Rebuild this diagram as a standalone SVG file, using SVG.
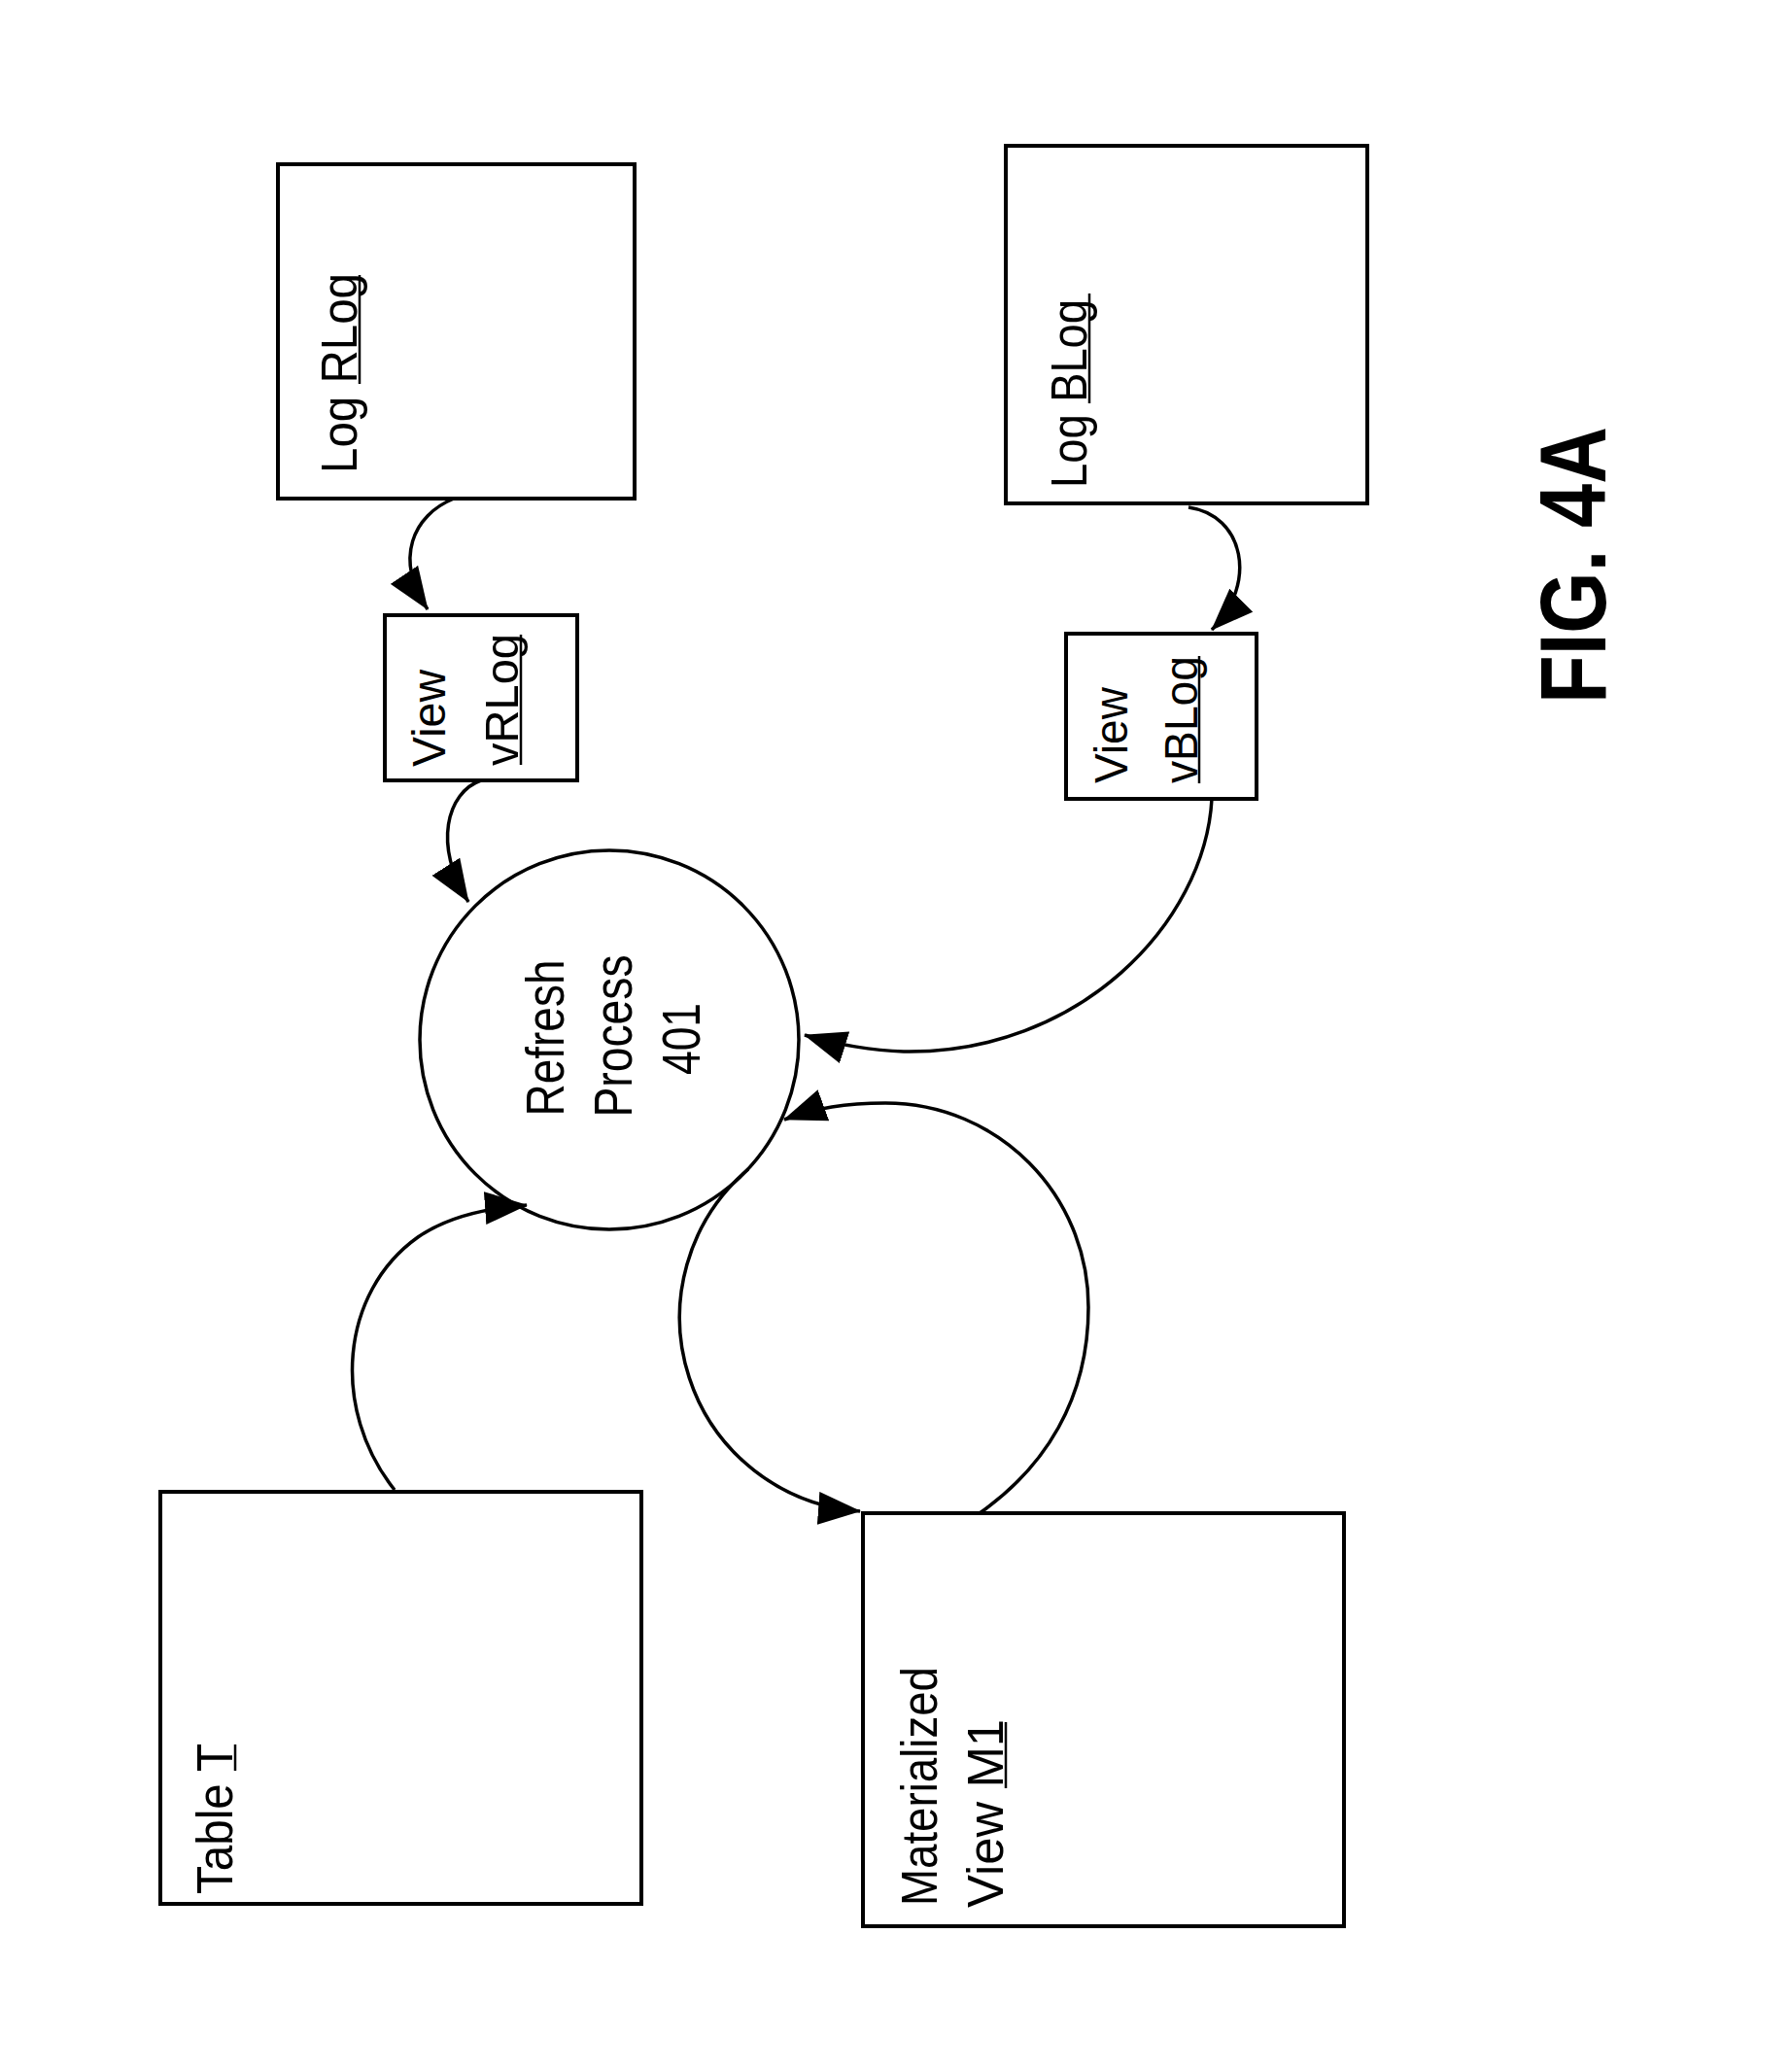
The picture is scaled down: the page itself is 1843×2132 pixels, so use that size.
<svg xmlns="http://www.w3.org/2000/svg" width="1843" height="2132" viewBox="0 0 1843 2132">
<style>
.box{fill:#fff;stroke:#000;stroke-width:4}
.circ{fill:none;stroke:#000;stroke-width:3.5}
.con{fill:none;stroke:#000;stroke-width:3.5;marker-end:url(#ah)}
.t{font-family:"Liberation Sans",Arial,sans-serif;font-size:52px;fill:#000}
.tc{font-family:"Liberation Sans",Arial,sans-serif;font-size:55px;fill:#000;text-anchor:middle}
.fig{font-family:"Liberation Sans",Arial,sans-serif;font-size:97px;font-weight:bold;fill:#000}
.ul{stroke:#000;stroke-width:2.5}
</style>
<defs>
<marker id="ah" markerUnits="userSpaceOnUse" markerWidth="44" markerHeight="34" viewBox="0 0 44 34" refX="43" refY="17" orient="auto">
<path d="M0,0 L44,17 L0,34 Z" fill="#000"/>
</marker>
</defs>
<rect width="1843" height="2132" fill="#fff"/>

<g id="connectors">
<path class="con" d="M467,513 C425,530 405,575 440,627"/>
<path class="con" d="M495,803 C460,815 445,870 482,928"/>
<path class="con" d="M406,1533 C340,1450 350,1330 430,1273 C460,1252 500,1243 542,1240"/>
<path class="con" d="M1223,522 C1280,530 1295,600 1247,648"/>
<path class="con" d="M1247,822 C1240,950 1110,1085 930,1082 C900,1081 860,1075 828,1065"/>
<path class="con" d="M1008,1557 C1075,1510 1120,1440 1120,1345 C1120,1229 1027,1135 911,1135 C870,1135 840,1140 807,1152"/>
<path class="con" d="M770,1203 A200,200 0 0 0 885,1555"/>
</g>

<g id="log-rlog">
<rect class="box" x="286" y="169" width="367" height="344"/>
<text class="t" transform="translate(367,487) rotate(-90)" textLength="206" lengthAdjust="spacingAndGlyphs">Log RLog</text>
<line class="ul" x1="370" y1="395" x2="370" y2="283"/>
</g>

<g id="log-blog">
<rect class="box" x="1035" y="150" width="372" height="368"/>
<text class="t" transform="translate(1118,502) rotate(-90)" textLength="194" lengthAdjust="spacingAndGlyphs">Log BLog</text>
<line class="ul" x1="1121" y1="415" x2="1121" y2="302"/>
</g>

<g id="view-vrlog">
<rect class="box" x="396" y="633" width="198" height="170"/>
<text class="t" style="font-size:49px" transform="translate(458,789) rotate(-90)" textLength="100" lengthAdjust="spacingAndGlyphs">View</text>
<text class="t" style="font-size:49px" transform="translate(533,788) rotate(-90)" textLength="136" lengthAdjust="spacingAndGlyphs">vRLog</text>
<line class="ul" x1="536" y1="787" x2="536" y2="653"/>
</g>

<g id="view-vblog">
<rect class="box" x="1097" y="652" width="196" height="170"/>
<text class="t" style="font-size:49px" transform="translate(1160,806) rotate(-90)" textLength="99" lengthAdjust="spacingAndGlyphs">View</text>
<text class="t" style="font-size:49px" transform="translate(1232,806) rotate(-90)" textLength="131" lengthAdjust="spacingAndGlyphs">vBLog</text>
<line class="ul" x1="1234" y1="806" x2="1234" y2="675"/>
</g>

<g id="refresh-process">
<circle class="circ" cx="627" cy="1070" r="195"/>
<text class="tc" transform="translate(580,1068) rotate(-90)" textLength="161" lengthAdjust="spacingAndGlyphs">Refresh</text>
<text class="tc" transform="translate(650,1066) rotate(-90)" textLength="167" lengthAdjust="spacingAndGlyphs">Process</text>
<text class="tc" transform="translate(720,1069) rotate(-90)" textLength="74" lengthAdjust="spacingAndGlyphs">401</text>
</g>

<g id="table-t">
<rect class="box" x="165" y="1535" width="495" height="424"/>
<text class="t" transform="translate(239,1949) rotate(-90)" textLength="155" lengthAdjust="spacingAndGlyphs">Table T</text>
<line class="ul" x1="242" y1="1822" x2="242" y2="1795"/>
</g>

<g id="materialized-view-m1">
<rect class="box" x="888" y="1557" width="495" height="425"/>
<text class="t" transform="translate(964,1961) rotate(-90)" textLength="246" lengthAdjust="spacingAndGlyphs">Materialized</text>
<text class="t" transform="translate(1032,1963) rotate(-90)" textLength="194" lengthAdjust="spacingAndGlyphs">View M1</text>
<line class="ul" x1="1035" y1="1840" x2="1035" y2="1772"/>
</g>

<g id="figure-label">
<text class="fig" transform="translate(1652,724) rotate(-90)" textLength="285" lengthAdjust="spacingAndGlyphs">FIG. 4A</text>
</g>
</svg>
